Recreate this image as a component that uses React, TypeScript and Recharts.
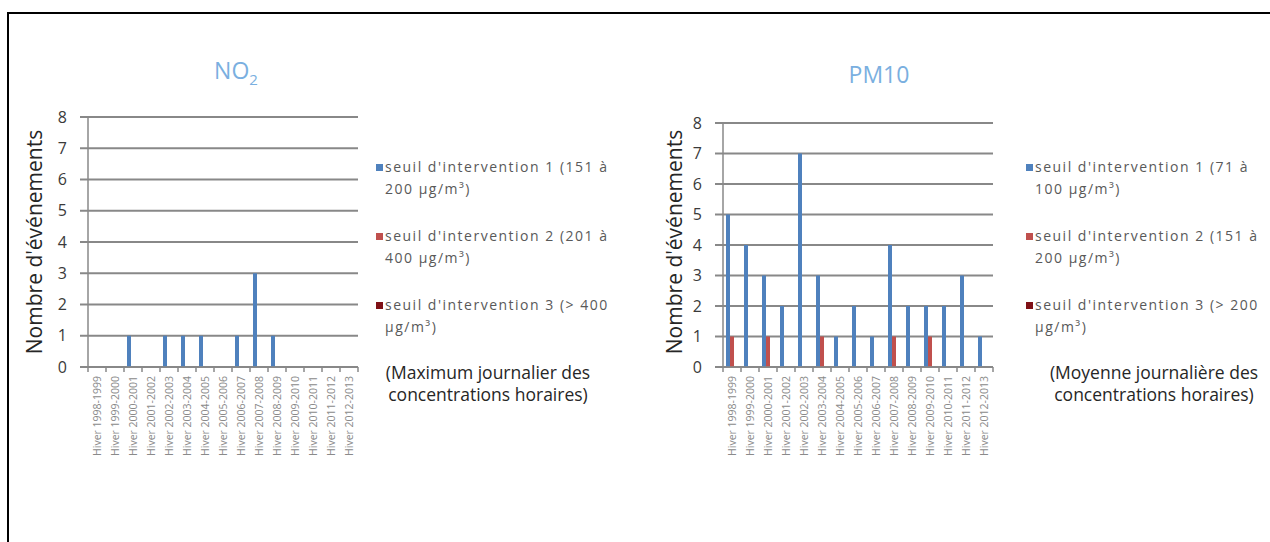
import React from 'react';
import { BarChart, Bar, XAxis, YAxis, CartesianGrid } from 'recharts';

const winters = [
  'Hiver 1998-1999', 'Hiver 1999-2000', 'Hiver 2000-2001', 'Hiver 2001-2002',
  'Hiver 2002-2003', 'Hiver 2003-2004', 'Hiver 2004-2005', 'Hiver 2005-2006',
  'Hiver 2006-2007', 'Hiver 2007-2008', 'Hiver 2008-2009', 'Hiver 2009-2010',
  'Hiver 2010-2011', 'Hiver 2011-2012', 'Hiver 2012-2013',
];

const no2Seuil1 = [0, 0, 1, 0, 1, 1, 1, 0, 1, 3, 1, 0, 0, 0, 0];
const no2Seuil2 = [0, 0, 0, 0, 0, 0, 0, 0, 0, 0, 0, 0, 0, 0, 0];
const no2Seuil3 = [0, 0, 0, 0, 0, 0, 0, 0, 0, 0, 0, 0, 0, 0, 0];

const pm10Seuil1 = [5, 4, 3, 2, 7, 3, 1, 2, 1, 4, 2, 2, 2, 3, 1];
const pm10Seuil2 = [1, 0, 1, 0, 0, 1, 0, 0, 0, 1, 0, 1, 0, 0, 0];
const pm10Seuil3 = [0, 0, 0, 0, 0, 0, 0, 0, 0, 0, 0, 0, 0, 0, 0];

const yTicks = [0, 1, 2, 3, 4, 5, 6, 7, 8];

const no2Legend = [
  "seuil d'intervention 1 (151 à\n200 µg/m³)",
  "seuil d'intervention 2 (201 à\n400 µg/m³)",
  "seuil d'intervention 3 (> 400\nµg/m³)",
];
const pm10Legend = [
  "seuil d'intervention 1 (71 à\n100 µg/m³)",
  "seuil d'intervention 2 (151 à\n200 µg/m³)",
  "seuil d'intervention 3 (> 200\nµg/m³)",
];
const no2Note = 'Maximum journalier des\nconcentrations horaires';
const pm10Note = 'Moyenne journalière des\nconcentrations horaires';

const colors = ['#4f81bd', '#c0504d', '#7f1015'];
const FONT = "'Open Sans', 'Liberation Sans', sans-serif";
const GRID = '#888888';

const buildRows = (s1: number[], s2: number[], s3: number[]) =>
  winters.map((w, i) => ({ name: w, s1: s1[i], s2: s2[i], s3: s3[i] }));

const no2Data = buildRows(no2Seuil1, no2Seuil2, no2Seuil3);
const pm10Data = buildRows(pm10Seuil1, pm10Seuil2, pm10Seuil3);

const W = 360;
const H = 430;
const Y_AXIS_W = 68;
const RIGHT = 22;

// x tick: rotated label + tick mark on category boundaries (Excel style)
const makeTick = (half: number, last: number) => (props: any) => {
  const { x, y, payload, index } = props;
  return (
    <g>
      <line x1={x - half} x2={x - half} y1={y - 8} y2={y - 3} stroke={GRID} strokeWidth={1.5} />
      {index === last && (
        <line x1={x + half} x2={x + half} y1={y - 8} y2={y - 3} stroke={GRID} strokeWidth={1.5} />
      )}
      <text
        x={x}
        y={y + 1}
        transform={`rotate(-90 ${x} ${y + 1})`}
        textAnchor="end"
        dominantBaseline="central"
        fontSize={10.5}
        fill="#8a8a8a"
        fontFamily={FONT}
      >
        {payload.value}
      </text>
    </g>
  );
};

const Chart = ({ data, top }: { data: any[]; top: number }) => {
  const plotW = W - Y_AXIS_W - RIGHT;
  const half = plotW / winters.length / 2;
  return (
    <BarChart
      width={W}
      height={H}
      data={data}
      margin={{ top, right: RIGHT, left: 0, bottom: 13 }}
      barGap={0}
      barSize={4}
    >
      <CartesianGrid vertical={false} stroke={GRID} strokeWidth={2} />
      <XAxis
        dataKey="name"
        interval={0}
        height={90}
        axisLine={{ stroke: GRID, strokeWidth: 1.5 }}
        tickLine={false}
        tick={makeTick(half, winters.length - 1)}
      />
      <YAxis
        width={Y_AXIS_W}
        domain={[0, 8]}
        ticks={yTicks}
        interval={0}
        axisLine={{ stroke: GRID, strokeWidth: 1.5 }}
        tickLine={{ stroke: GRID, strokeWidth: 2 }}
        tickSize={8}
        tickMargin={13}
        tick={{ fontSize: 16, fill: '#3a3a3a', fontFamily: FONT }}
      />
      <Bar dataKey="s1" fill={colors[0]} isAnimationActive={false} />
      <Bar dataKey="s2" fill={colors[1]} isAnimationActive={false} />
      <Bar dataKey="s3" fill={colors[2]} isAnimationActive={false} />
    </BarChart>
  );
};

const Legend = ({ items, note, left, noteCx }: { items: string[]; note: string; left: number; noteCx: number }) => (
  <div style={{ position: 'absolute', left: 0, top: 156, fontFamily: FONT }}>
    {items.map((t, i) => (
      <div key={i} style={{ position: 'absolute', top: i * 69, left, width: 260 }}>
        <div style={{ position: 'absolute', left: 0, top: 8, width: 7, height: 7, background: colors[i] }} />
        <div
          style={{
            position: 'absolute',
            left: 9,
            top: 0,
            whiteSpace: 'pre',
            fontSize: 14,
            letterSpacing: 1.5,
            lineHeight: '22px',
            color: '#595959',
          }}
        >
          {t}
        </div>
      </div>
    ))}
    <div
      style={{
        position: 'absolute',
        top: 205,
        left: noteCx - 130,
        width: 260,
        textAlign: 'center',
        whiteSpace: 'pre',
        fontSize: 17.5,
        lineHeight: '22px',
        color: '#262626',
      }}
    >
      {'(' + note + ')'}
    </div>
  </div>
);

const YLabel = ({ cx }: { cx: number }) => (
  <div
    style={{
      position: 'absolute',
      left: cx - 130,
      top: 242 - 13,
      width: 260,
      height: 26,
      lineHeight: '26px',
      textAlign: 'center',
      transform: 'rotate(-90deg)',
      fontFamily: FONT,
      fontSize: 21,
      color: '#262626',
    }}
  >
    Nombre d'événements
  </div>
);

export default function App() {
  // fixed to the viewport, so all positions are page coordinates
  return (
    <div style={{ position: 'fixed', left: 0, top: 0, width: 1270, height: 542, overflow: 'hidden', background: '#fff' }}>
      <div
        style={{
          position: 'absolute',
          left: 7,
          top: 12,
          width: 1300,
          height: 600,
          borderTop: '2.5px solid #000',
          borderLeft: '2.5px solid #000',
        }}
      />
      <div style={{ position: 'absolute', left: 20, top: 40 }}>
        <Chart data={no2Data} top={77} />
      </div>
      <div style={{ position: 'absolute', left: 655, top: 40 }}>
        <Chart data={pm10Data} top={83} />
      </div>
      <div style={{ position: 'absolute', left: 176, top: 54, width: 120, textAlign: 'center', fontFamily: FONT, fontSize: 23, color: '#7aafe0' }}>
        NO<sub style={{ fontSize: 15 }}>2</sub>
      </div>
      <div style={{ position: 'absolute', left: 819, top: 58, width: 120, textAlign: 'center', fontFamily: FONT, fontSize: 23, color: '#7aafe0' }}>
        PM10
      </div>
      <YLabel cx={34} />
      <YLabel cx={674} />
      <Legend items={no2Legend} note={no2Note} left={376} noteCx={488} />
      <Legend items={pm10Legend} note={pm10Note} left={1026} noteCx={1154} />
    </div>
  );
}
